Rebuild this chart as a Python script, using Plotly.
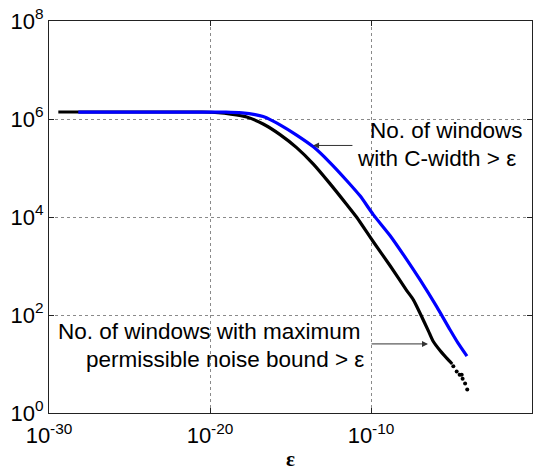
import plotly.graph_objects as go

# Window counts versus threshold epsilon
blue_eps = [6.6e-29, 1e-22, 1e-19, 1e-18, 6.3e-18, 2.0e-17, 6.3e-17, 2.24e-16,
            2.4e-15, 2.63e-14, 2.82e-13, 3.16e-12, 2.09e-11, 1.38e-10, 1.51e-9,
            1.66e-8, 1.10e-7, 1.20e-6, 8.1e-6, 2.5e-5, 9.1e-5]
blue_count = [1.38e6, 1.38e6, 1.38e6, 1.33e6, 1.23e6, 1.12e6, 9.5e5, 7.6e5,
              4.7e5, 2.7e5, 1.29e5, 5.5e4, 2.7e4, 1.12e4, 4.2e3,
              1.35e3, 525, 148, 50, 27, 14.5]

black_eps = [3.8e-30, 3.2e-21, 3.2e-20, 2.0e-19, 1.9e-18, 2.0e-17, 2.24e-16,
             2.4e-15, 2.63e-14, 2.82e-13, 3.1e-12, 1.26e-11, 1.32e-10, 1.58e-9,
             1.66e-8, 4.3e-8, 1.26e-7, 3.6e-7, 7.1e-7, 2.0e-6, 5.2e-6, 1.1e-5]
black_count = [1.39e6, 1.39e6, 1.35e6, 1.26e6, 1.1e6, 7.9e5, 4.8e5,
               2.6e5, 1.2e5, 4.8e4, 1.8e4, 1.0e4, 3.2e3, 1.0e3,
               316, 204, 100, 48, 29.5, 18.6, 13, 10]

black_tail_eps = [1.3e-5, 2.1e-5, 3.2e-5, 4.3e-5, 4.9e-5, 7.0e-5, 9.5e-5]
black_tail_count = [9, 7, 6, 6, 5, 4, 3]

x_tickvals = [1e-30, 1e-20, 1e-10, 1]
x_ticktext = ["10<sup>-30</sup>", "10<sup>-20</sup>", "10<sup>-10</sup>", "10<sup>0</sup>"]
y_tickvals = [1, 1e2, 1e4, 1e6, 1e8]
y_ticktext = ["10<sup>0</sup>", "10<sup>2</sup>", "10<sup>4</sup>", "10<sup>6</sup>", "10<sup>8</sup>"]

FONT = "Liberation Sans, Arial, sans-serif"

fig = go.Figure()
fig.add_trace(go.Scatter(x=black_eps, y=black_count, mode="lines",
                         line=dict(color="#000000", width=3.2, shape="spline", smoothing=0.6),
                         showlegend=False))
fig.add_trace(go.Scatter(x=black_tail_eps, y=black_tail_count, mode="markers",
                         marker=dict(color="#000000", size=4), showlegend=False))
fig.add_trace(go.Scatter(x=blue_eps, y=blue_count, mode="lines",
                         line=dict(color="#0000ff", width=3.2, shape="spline", smoothing=0.6),
                         showlegend=False))

axis_common = dict(
    type="log", automargin=False,
    showgrid=True, gridcolor="rgba(60,60,60,0.6)", griddash="dot", gridwidth=1,
    showline=True, linecolor="#222222", linewidth=1, mirror="ticks",
    ticks="inside", ticklen=5, tickcolor="#222222",
    tickfont=dict(family=FONT, size=22, color="#000000"),
)

fig.update_xaxes(range=[-30, 0], tickvals=x_tickvals, ticktext=x_ticktext,
                 ticklabelstandoff=3,
                 title=dict(text="<b>ε</b>", standoff=8,
                            font=dict(family="Liberation Serif, serif", size=21, color="#000000")),
                 **axis_common)
fig.update_yaxes(range=[0, 8], tickvals=y_tickvals, ticktext=y_ticktext, **axis_common)

text_font = dict(family=FONT, size=22.5, color="#000000")
labels = [
    ("No. of windows", -5.28, 5.76),
    ("with C-width > ε", -5.93, 5.19),
    ("No. of windows with maximum", -20.03, 1.66),
    ("permissible noise bound > ε", -19.04, 1.09),
]
for txt, lx, ly in labels:
    fig.add_annotation(x=lx, y=ly, xref="x", yref="y", text=txt, showarrow=False,
                       xanchor="center", yanchor="middle", font=text_font)

arrows = [(-13.6, 5.46, -11.06, 5.46), (-6.46, 1.41, -10.06, 1.41)]
for hx, hy, tx, ty in arrows:
    fig.add_annotation(x=hx, y=hy, ax=tx, ay=ty, xref="x", yref="y", axref="x", ayref="y",
                       text="", showarrow=True, arrowhead=2, arrowsize=1.2,
                       arrowwidth=1, arrowcolor="#333333", standoff=0)

fig.update_layout(width=546, height=471, margin=dict(l=49, r=14, t=21, b=58),
                  plot_bgcolor="white", paper_bgcolor="white")

fig.write_html("out.html")
